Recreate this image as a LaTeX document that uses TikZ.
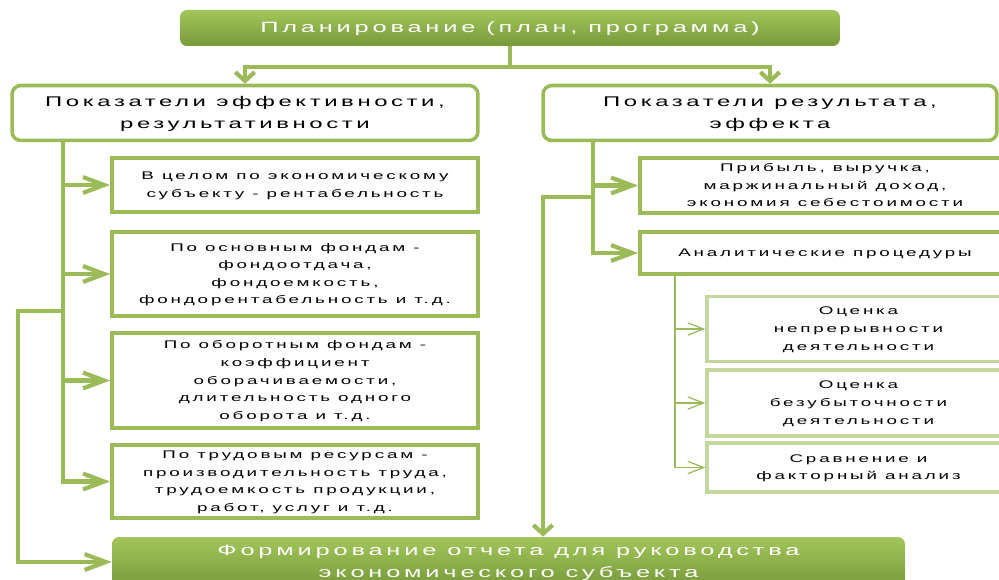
\documentclass[tikz,border=0pt]{standalone}
\usepackage{fontspec}
\setmainfont{Liberation Sans}[LetterSpace=15]
\usetikzlibrary{arrows.meta}
\definecolor{grn}{HTML}{9BBB59}
\definecolor{grnlight}{HTML}{C3D69B}
\definecolor{filltop}{HTML}{A2C65B}
\definecolor{fillbot}{HTML}{779A3A}
\newcommand\wt[1]{\scalebox{1.7}[1]{\begin{tabular}{@{}c@{}}#1\end{tabular}}}
\tikzset{headbox/.style={rounded corners=4pt,draw=none,top color=filltop,bottom color=fillbot,text=white,inner sep=0pt}}
\tikzset{groupbox/.style={rounded corners=5pt,draw=grn,line width=2pt,fill=white,inner sep=0pt,font=\fontsize{8}{13}\selectfont}}
\tikzset{itembox/.style={draw=grn,line width=2.2pt,fill=white,inner sep=0pt,font=\fontsize{6.3}{10}\selectfont}}
\tikzset{subbox/.style={draw=grnlight,line width=2pt,fill=white,inner sep=0pt,font=\fontsize{6.3}{10}\selectfont}}
\tikzset{sidearr/.style={draw=grn,line width=2.4pt,-{Straight Barb[length=12pt,width=9pt]}}}
\tikzset{downarr/.style={draw=grn,line width=2.4pt,-{Straight Barb[length=5pt,width=11pt]}}}
\tikzset{thinarr/.style={draw=grn,line width=0.7pt,-{Straight Barb[length=9pt,width=7pt]}}}
\tikzset{link/.style={draw=grn,line width=2.4pt}}

\begin{document}
\begin{tikzpicture}[x=0.02cm,y=-0.02cm]
    \useasboundingbox (0,0) rectangle (999,580);
    \clip (0,0) rectangle (999,580);

    % headers
    \node[headbox,minimum width=13.2cm,minimum height=0.72cm,font=\fontsize{8.5}{13}\selectfont] (plan) at (510,28) {\wt{Планирование (план, программа)}};
    \node[groupbox,minimum width=9.32cm,minimum height=1.1cm] (effect) at (245,113) {\wt{Показатели эффективности,\\результативности}};
    \node[groupbox,minimum width=9.08cm,minimum height=1.1cm] (result) at (770,113) {\wt{Показатели результата,\\эффекта}};

    % left column
    \node[itembox,minimum width=7.32cm,minimum height=1.08cm] (el1) at (295,185) {\wt{В целом по экономическому\\субъекту - рентабельность}};
    \node[itembox,minimum width=7.32cm,minimum height=1.68cm] (el2) at (295,274) {\wt{По основным фондам -\\фондоотдача,\\фондоемкость,\\фондорентабельность и т.д.}};
    \node[itembox,minimum width=7.32cm,minimum height=1.9cm] (el3) at (295,380.5) {\wt{По оборотным фондам -\\коэффициент\\оборачиваемости,\\длительность одного\\оборота и т.д.}};
    \node[itembox,minimum width=7.32cm,minimum height=1.46cm] (el4) at (295,481.5) {\wt{По трудовым ресурсам -\\производительность труда,\\трудоемкость продукции,\\работ, услуг и т.д.}};

    % right column
    \node[itembox,minimum width=7.4cm,minimum height=1.1cm] (er1) at (825,185.5) {\wt{Прибыль, выручка,\\маржинальный доход,\\экономия себестоимости}};
    \node[itembox,minimum width=7.4cm,minimum height=0.84cm] (er2) at (825,253) {\wt{Аналитические процедуры}};
    \node[subbox,minimum width=6.06cm,minimum height=1.3cm] (an1) at (858.5,329) {\wt{Оценка\\непрерывности\\деятельности}};
    \node[subbox,minimum width=6.06cm,minimum height=1.32cm] (an2) at (858.5,403) {\wt{Оценка\\безубыточности\\деятельности}};
    \node[subbox,minimum width=6.06cm,minimum height=0.98cm] (an3) at (858.5,467.5) {\wt{Сравнение и\\факторный анализ}};

    \node[headbox,minimum width=15.86cm,minimum height=1.0cm,font=\fontsize{8.5}{13}\selectfont] (report) at (508.5,562) {\wt{Формирование отчета для руководства\\экономического субъекта}};

    % connectors
    \coordinate (jt) at (510,67);
    \draw[link] (plan.south) -- (jt);
    \draw[downarr] (jt) -| (effect.north);
    \draw[downarr] (jt) -| (result.north);

    \coordinate (ls) at (63,140);
    \foreach \b in {el1,el2,el3,el4}
        \draw[sidearr] (ls) |- (\b.west);
    \coordinate (lo) at (63,311);
    \draw[sidearr] (lo) -- (18,311) |- (report.west);

    \coordinate (rs) at (593,140);
    \foreach \b in {er1,er2}
        \draw[sidearr] (rs) |- (\b.west);
    \coordinate (rj) at (593,197);
    \coordinate (rk) at (543,197);
    \draw[downarr] (rj) -- (rk) -- (report.north -| rk);

    \coordinate (ak) at (675,274);
    \foreach \b in {an1,an2,an3}
        \draw[thinarr] (ak) |- (\b.west);
\end{tikzpicture}
\end{document}
